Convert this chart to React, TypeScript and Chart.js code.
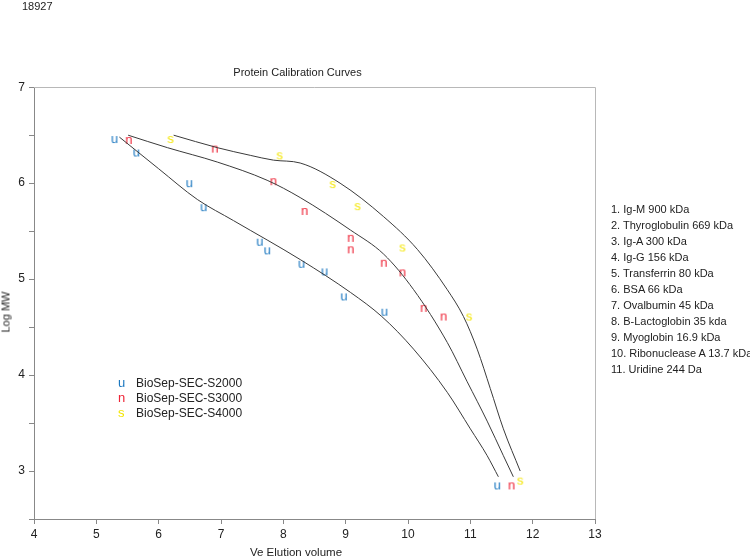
import React, { useEffect, useRef } from "react";
import { Chart, registerables } from "chart.js";

Chart.register(...registerables);

// ---- data ----
const chartTitle = "Protein Calibration Curves";
const xAxisTitle = "Ve Elution volume";
const yAxisTitle = "Log MW";
const cornerLabel = "18927";

const seriesNames = ["BioSep-SEC-S2000", "BioSep-SEC-S3000", "BioSep-SEC-S4000"];
const seriesGlyphs = ["u", "n", "s"];
const seriesColors = ["#1c78c0", "#ee2436", "#f4e600"];

const s2000X = [5.29, 5.64, 6.49, 6.72, 7.62, 7.74, 8.29, 8.66, 8.97, 9.62, 11.43];
const s2000Y = [6.46, 6.32, 6.0, 5.75, 5.39, 5.3, 5.16, 5.08, 4.82, 4.66, 2.85];

const s3000X = [5.52, 6.9, 7.84, 8.34, 9.08, 9.08, 9.61, 9.91, 10.25, 10.57, 11.66];
const s3000Y = [6.45, 6.36, 6.02, 5.71, 5.43, 5.31, 5.17, 5.07, 4.7, 4.61, 2.85];

const s4000X = [6.19, 7.94, 8.79, 9.19, 9.91, 10.98, 11.8];
const s4000Y = [6.46, 6.29, 5.99, 5.76, 5.33, 4.61, 2.9];

// fitted calibration curves
const fit2000X = [5.37, 6.0, 6.62, 7.2, 8.28, 9.08, 9.58, 10.09, 10.63, 11.0, 11.27, 11.45];
const fit2000Y = [6.48, 6.15, 5.83, 5.61, 5.2, 4.86, 4.61, 4.27, 3.82, 3.44, 3.16, 2.94];

const fit3000X = [5.51, 6.14, 6.94, 7.74, 8.27, 9.08, 9.61, 10.09, 10.63, 10.95, 11.27, 11.53, 11.69];
const fit3000Y = [6.5, 6.37, 6.22, 6.03, 5.85, 5.51, 5.26, 4.89, 4.34, 3.93, 3.52, 3.16, 2.94];

const fit4000X = [6.24, 6.94, 7.47, 7.84, 8.27, 8.91, 9.61, 10.15, 10.63, 10.89, 11.11, 11.32, 11.53, 11.8];
const fit4000Y = [6.5, 6.37, 6.29, 6.24, 6.21, 6.0, 5.65, 5.31, 4.89, 4.61, 4.27, 3.86, 3.44, 3.0];

const proteinList = [
  "1. Ig-M 900 kDa",
  "2. Thyroglobulin 669 kDa",
  "3. Ig-A 300 kDa",
  "4. Ig-G 156 kDa",
  "5. Transferrin 80 kDa",
  "6. BSA 66 kDa",
  "7. Ovalbumin 45 kDa",
  "8. B-Lactoglobin 35 kda",
  "9. Myoglobin 16.9 kDa",
  "10. Ribonuclease A 13.7 kDa",
  "11. Uridine 244 Da",
];

const xMin = 4;
const xMax = 13;
const yMin = 2.5;
const yMax = 7;

const FONT = "'Liberation Sans', Arial, sans-serif";

function zip(xs: number[], ys: number[]) {
  return xs.map((x, i) => ({ x, y: ys[i] }));
}

function glyphCanvas(ch: string, color: string) {
  const c = document.createElement("canvas");
  c.width = 14;
  c.height = 16;
  const g = c.getContext("2d")!;
  g.fillStyle = color;
  g.font = `13px ${FONT}`;
  g.textAlign = "center";
  g.textBaseline = "alphabetic";
  g.fillText(ch, 7, 11.5);
  return c;
}

const framePlugin = {
  id: "frame",
  beforeDatasetsDraw(chart: any) {
    const { ctx, chartArea } = chart;
    ctx.save();
    ctx.strokeStyle = "#b8b8b8";
    ctx.lineWidth = 1;
    ctx.beginPath();
    ctx.moveTo(chartArea.left, Math.round(chartArea.top) + 0.5);
    ctx.lineTo(Math.round(chartArea.right) + 0.5, Math.round(chartArea.top) + 0.5);
    ctx.lineTo(Math.round(chartArea.right) + 0.5, chartArea.bottom);
    ctx.stroke();
    ctx.restore();
  },
};

export default function App() {
  const ref = useRef<HTMLCanvasElement | null>(null);

  useEffect(() => {
    if (!ref.current) return;
    const pts = [zip(s2000X, s2000Y), zip(s3000X, s3000Y), zip(s4000X, s4000Y)];
    const fits = [zip(fit2000X, fit2000Y), zip(fit3000X, fit3000Y), zip(fit4000X, fit4000Y)];

    const datasets: any[] = [];
    fits.forEach((f, i) => {
      datasets.push({
        label: seriesNames[i] + " fit",
        data: f,
        showLine: true,
        borderColor: "#3a3a3a",
        borderWidth: 1,
        pointRadius: 0,
        cubicInterpolationMode: "monotone",
        fill: false,
      });
    });
    pts.forEach((p, i) => {
      datasets.push({
        label: seriesNames[i],
        data: p,
        showLine: false,
        pointStyle: glyphCanvas(seriesGlyphs[i], seriesColors[i]),
        pointRadius: 6,
      });
    });

    const chart = new Chart(ref.current, {
      type: "scatter",
      data: { datasets },
      options: {
        animation: false,
        responsive: false,
        events: [],
        layout: { padding: { left: 0, right: 155, top: 0, bottom: 0 } },
        plugins: {
          legend: { display: false },
          tooltip: { enabled: false },
          title: {
            display: true,
            text: chartTitle,
            color: "#222",
            font: { family: FONT, size: 11, weight: "normal" },
            padding: { top: 66, bottom: 8 },
          },
        },
        scales: {
          x: {
            type: "linear",
            min: xMin,
            max: xMax,
            ticks: {
              stepSize: 1,
              color: "#222",
              font: { family: FONT, size: 12 },
              padding: 3,
              autoSkip: false,
              maxRotation: 0,
            },
            grid: {
              drawOnChartArea: false,
              drawTicks: true,
              tickLength: 5,
              tickColor: "#888",
            },
            border: { color: "#888" },
            afterFit: (s: any) => {
              s.height = 39;
            },
          },
          y: {
            type: "linear",
            min: yMin,
            max: yMax,
            ticks: {
              stepSize: 0.5,
              color: "#222",
              font: { family: FONT, size: 12 },
              padding: 4,
              autoSkip: false,
              callback: (v: any) => (Number(v) % 1 === 0 ? String(v) : ""),
            },
            grid: {
              drawOnChartArea: false,
              drawTicks: true,
              tickLength: 5,
              tickColor: "#888",
            },
            border: { color: "#888" },
            afterFit: (s: any) => {
              s.width = 34;
            },
          },
        },
      },
      plugins: [framePlugin],
    } as any);
    return () => chart.destroy();
  }, []);

  const textBase: React.CSSProperties = {
    position: "absolute",
    fontFamily: FONT,
    color: "#222",
    whiteSpace: "nowrap",
    lineHeight: 1,
  };

  return (
    <div style={{ position: "fixed", left: 0, top: 0, width: 750, height: 558, background: "#fff", overflow: "hidden" }}>
      <canvas ref={ref} width={750} height={558} style={{ display: "block" }} />
      <div style={{ ...textBase, left: 22, top: 1, fontSize: 11 }}>{cornerLabel}</div>
      <div
        style={{
          ...textBase,
          left: 6,
          top: 312,
          fontSize: 11,
          transform: "translate(-50%, -50%) rotate(-90deg)",
        }}
      >
        {yAxisTitle}
      </div>
      <div style={{ ...textBase, left: 296, top: 553, fontSize: 11.5, transform: "translate(-50%, -50%)" }}>
        {xAxisTitle}
      </div>
      {seriesNames.map((n, i) => (
        <div key={n} style={{ ...textBase, left: 118, top: 383 + i * 15 - 7, fontSize: 12, height: 14 }}>
          <span style={{ color: seriesColors[i], display: "inline-block", width: 18, fontSize: 13 }}>
            {seriesGlyphs[i]}
          </span>
          {n}
        </div>
      ))}
      {proteinList.map((t, i) => (
        <div key={t} style={{ ...textBase, left: 611, top: 210 + i * 16 - 6, fontSize: 11 }}>
          {t}
        </div>
      ))}
    </div>
  );
}
